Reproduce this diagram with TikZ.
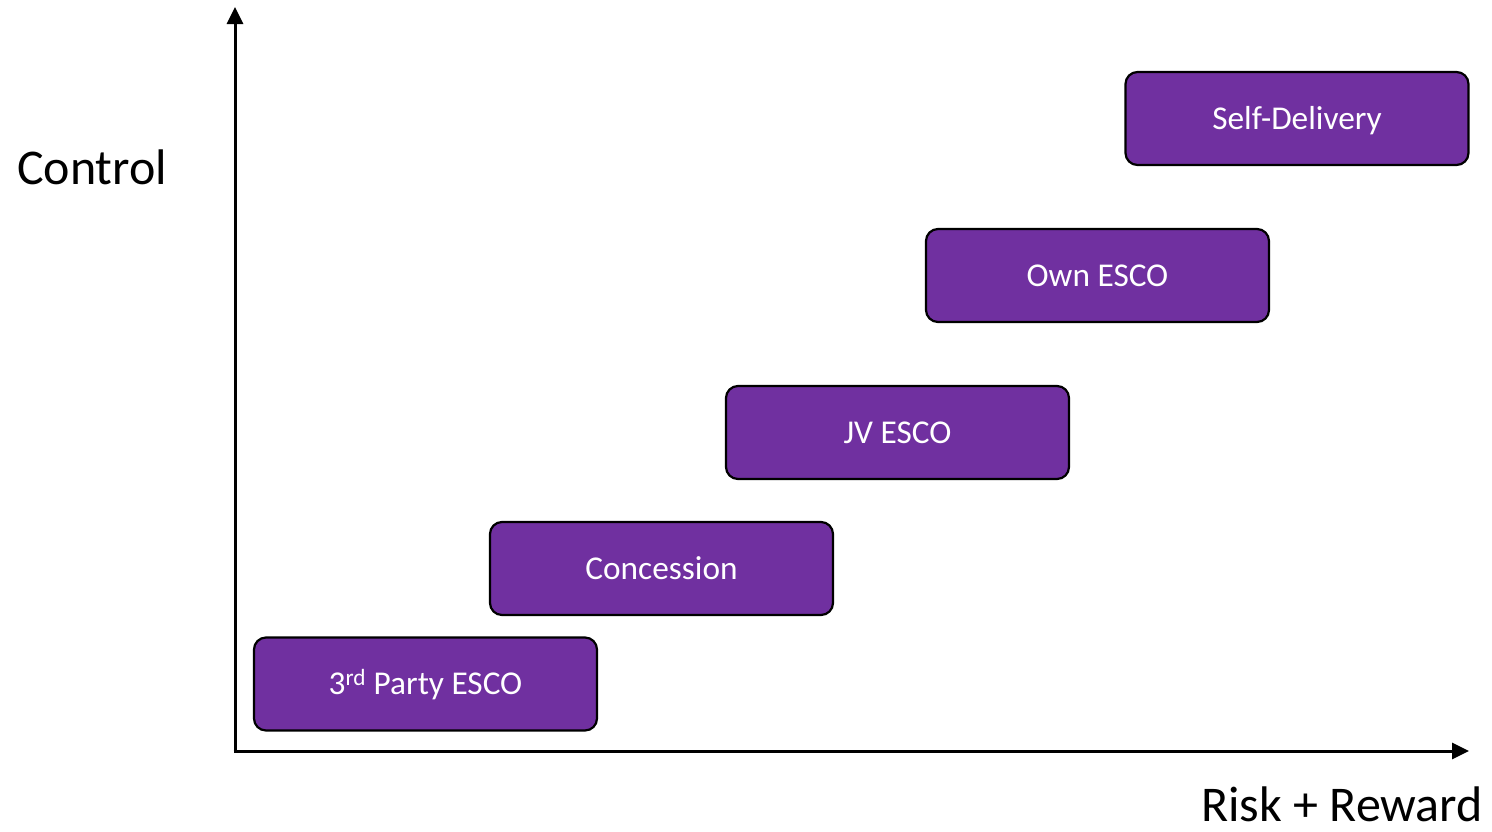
\documentclass[tikz,border=0pt]{standalone}
\usepackage{fontspec}
\setmainfont{Carlito}
\usetikzlibrary{arrows.meta}
\definecolor{boxpurple}{HTML}{7030A0}
\begin{document}
\begin{tikzpicture}[x=1pt,y=-1pt,
  stagebox/.style={draw=black, line width=2.2pt, fill=boxpurple, rounded corners=12pt,
    minimum width=343pt, minimum height=93pt, inner sep=0pt, text height=21.5pt, text depth=0pt,
    text=white, font=\fontsize{33.3}{38}\selectfont},
  axis/.style={line width=3pt, -{Triangle[length=17pt,width=16pt]}},
  axislabel/.style={inner sep=0pt, font=\fontsize{50}{58}\selectfont}]
\useasboundingbox (0,0) rectangle (1492,831);
\coordinate (origin) at (235,751);
\coordinate (ytip) at (235,7);
\coordinate (xtip) at (1469,751);
\draw[axis] ([yshift=1.5pt]origin) -- (ytip);
\draw[axis] ([xshift=-1.5pt]origin) -- (xtip);
\node[axislabel, anchor=base west] (ctl) at (17,184) {Control};
\node[axislabel, anchor=base east] (rr) at (1483,821) {Risk + Reward};
\node[stagebox] (third) at (425.5,684) {3\textsuperscript{rd} Party ESCO};
\node[stagebox] (conc) at (661.5,568.5) {Concession};
\node[stagebox] (jv) at (897.5,432.5) {JV ESCO};
\node[stagebox] (own) at (1097.5,275.5) {Own ESCO};
\node[stagebox] (self) at (1297,118.5) {Self-Delivery};
\end{tikzpicture}
\end{document}
